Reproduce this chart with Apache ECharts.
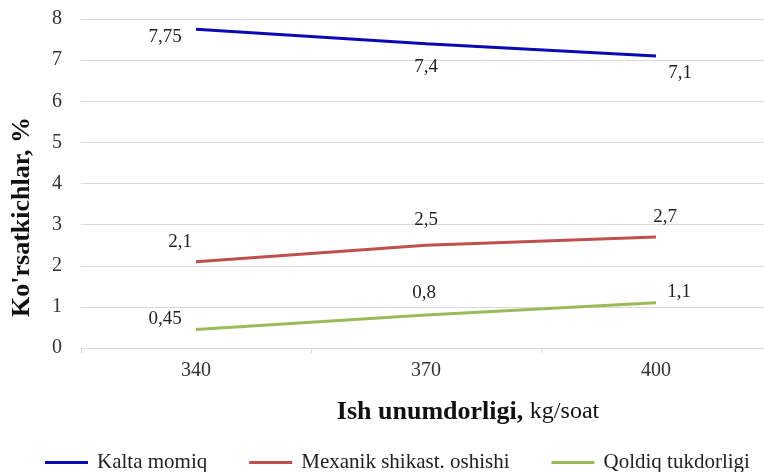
<!DOCTYPE html>
<html>
<head>
<meta charset="utf-8">
<script src="https://cdn.jsdelivr.net/npm/echarts@6/dist/echarts.min.js"></script>
<style>
  html, body { margin: 0; padding: 0; background: #fff; overflow: hidden; }
  #wrap { width: 764px; height: 472px; overflow: hidden; }
  /* plot area runs a few px past the right edge, like the cropped original */
  #chart { width: 772px; height: 472px; }
</style>
</head>
<body>
<div id="wrap"><div id="chart"></div></div>
<script>
const categories = ["340", "370", "400"];
const kaltaMomiq = [7.75, 7.4, 7.1];
const mexanikShikast = [2.1, 2.5, 2.7];
const qoldiqTukdorligi = [0.45, 0.8, 1.1];
const yTicks = { min: 0, max: 8, interval: 1 };

const serif = "'Liberation Serif', 'DejaVu Serif', serif";

const chart = echarts.init(document.getElementById("chart"));

// label offsets from each point
function makeSeries(name, values, color, offsets) {
  return {
    name: name,
    type: "line",
    data: values.map((v, i) => ({
      value: v,
      label: { offset: offsets[i] },
    })),
    symbol: "circle",
    symbolSize: 0,
    color: color,
    lineStyle: { color: color, width: 3 },
    itemStyle: { color: color },
    label: {
      show: true,
      position: "inside",
      fontFamily: serif,
      fontSize: 19,
      color: "#222",
      formatter: (p) => String(p.value).replace(".", ","),
    },
    emphasis: { disabled: true },
    animation: false,
  };
}

const option = {
  animation: false,
  grid: { left: 81, top: 19, width: 690, height: 329, containLabel: false },
  legend: {
    left: 40,
    top: 447,
    itemGap: 42,
    itemWidth: 43,
    itemHeight: 3,
    icon: "rect",
    textStyle: { fontFamily: serif, fontSize: 21, color: "#222", padding: [0, 0, 0, 4] },
  },
  xAxis: {
    type: "category",
    data: categories,
    boundaryGap: true,
    axisLine: { lineStyle: { color: "#d9d9d9", width: 1 } },
    axisTick: { show: true, length: 5, lineStyle: { color: "#d9d9d9" } },
    axisLabel: { fontFamily: serif, fontSize: 20, color: "#333", margin: 13 },
  },
  yAxis: {
    type: "value",
    min: yTicks.min,
    max: yTicks.max,
    interval: yTicks.interval,
    axisLine: { show: false },
    axisTick: { show: false },
    splitLine: { lineStyle: { color: "#d9d9d9", width: 1 } },
    axisLabel: { fontFamily: serif, fontSize: 20, color: "#333", margin: 19 },
  },
  graphic: [
    {
      type: "text",
      x: 22,
      y: 217,
      rotation: Math.PI / 2,
      style: {
        text: "Ko'rsatkichlar, %",
        fontFamily: serif,
        fontSize: 26,
        fontWeight: "bold",
        fill: "#111",
        align: "center",
        verticalAlign: "middle",
      },
    },
    {
      type: "text",
      x: 468,
      y: 412,
      style: {
        text: "{b|Ish unumdorligi,}  {n|kg/soat}",
        align: "center",
        verticalAlign: "middle",
        rich: {
          b: { fontFamily: serif, fontSize: 26, fontWeight: "bold", fill: "#111" },
          n: { fontFamily: serif, fontSize: 24, fill: "#111" },
        },
      },
    },
  ],
  series: [
    makeSeries("Kalta momiq", kaltaMomiq, "#0a0ab4", [[-31, 8], [0, 23], [24, 17]]),
    makeSeries("Mexanik shikast. oshishi", mexanikShikast, "#c0504d", [[-16, -20], [0, -25], [9, -20]]),
    makeSeries("Qoldiq tukdorligi", qoldiqTukdorligi, "#9bbb59", [[-31, -10], [-2, -22], [23, -11]]),
  ],
};

chart.setOption(option);
</script>
</body>
</html>
